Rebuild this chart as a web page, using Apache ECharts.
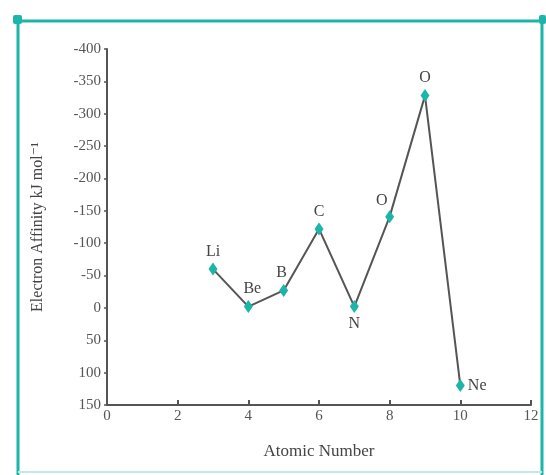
<!DOCTYPE html>
<html><head><meta charset="utf-8">
<script src="https://cdn.jsdelivr.net/npm/echarts@6/dist/echarts.min.js"></script>
<style>html,body{margin:0;padding:0;background:#fff}#c{width:546px;height:475px}</style>
</head><body><div id="c"></div>
<script>
const atomicNumbers = [3, 4, 5, 6, 7, 8, 9, 10];
const elements = ['Li', 'Be', 'B', 'C', 'N', 'O', 'O', 'Ne'];
const affinity = [-60, -2, -27, -122, -2, -141, -328, 120];
const labelPos = ['top', 'top', 'top', 'top', 'bottom', 'top', 'top', 'right'];
const labelOffset = [[0, 0], [4, 0], [-2, 0], [0, 0], [0, 0], [-8, 2], [0, 0], [0, 0]];

const chart = echarts.init(document.getElementById('c'));
const font = '"Liberation Serif", "DejaVu Serif", serif';
const teal = '#1db5aa';
chart.setOption({
  backgroundColor: '#fff',
  animation: false,
  textStyle: { fontFamily: font },
  grid: { left: 107, right: 15, top: 49, bottom: 70 },
  xAxis: {
    type: 'value', min: 0, max: 12, interval: 2,
    name: 'Atomic Number', nameLocation: 'middle', nameGap: 38,
    nameTextStyle: { fontFamily: font, fontSize: 17, color: '#444' },
    axisLine: { onZero: false, lineStyle: { color: '#555', width: 2 } },
    axisTick: { inside: true, length: 5, lineStyle: { color: '#555', width: 2 } },
    axisLabel: { fontFamily: font, fontSize: 15, color: '#555', margin: 4 },
    splitLine: { show: false }
  },
  yAxis: {
    type: 'value', min: -400, max: 150, interval: 50, inverse: true,
    name: 'Electron Affinity kJ mol\u207B\u00B9', nameLocation: 'middle', nameGap: 61,
    nameTextStyle: { fontFamily: font, fontSize: 16, color: '#444' },
    axisLine: { lineStyle: { color: '#555', width: 2 } },
    axisTick: { length: 3, lineStyle: { color: '#555', width: 1.5 } },
    axisLabel: { fontFamily: font, fontSize: 15, color: '#555', margin: 6 },
    splitLine: { show: false }
  },
  series: [{
    type: 'line',
    data: atomicNumbers.map((x, i) => ({
      value: [x, affinity[i]],
      label: { show: true, formatter: elements[i], position: labelPos[i], offset: labelOffset[i] }
    })),
    symbol: 'diamond', symbolSize: [9, 13],
    itemStyle: { color: teal },
    lineStyle: { color: '#555', width: 2 },
    label: { fontFamily: font, fontSize: 16, color: '#444', distance: 3 }
  }],
  graphic: [
    { type: 'line', shape: { x1: 18, y1: 21, x2: 546, y2: 21 }, style: { stroke: teal, lineWidth: 3 } },
    { type: 'line', shape: { x1: 18, y1: 21, x2: 18, y2: 475 }, style: { stroke: teal, lineWidth: 3 } },
    { type: 'line', shape: { x1: 542, y1: 21, x2: 542, y2: 475 }, style: { stroke: teal, lineWidth: 3 } },
    { type: 'line', shape: { x1: 18, y1: 472, x2: 542, y2: 472 }, style: { stroke: '#bfe9e5', lineWidth: 2 } },
    { type: 'rect', shape: { x: 13, y: 15, width: 9, height: 9, r: 2 }, style: { fill: teal } },
    { type: 'rect', shape: { x: 539, y: 15, width: 7, height: 9, r: 2 }, style: { fill: teal } }
  ]
});
</script></body></html>
